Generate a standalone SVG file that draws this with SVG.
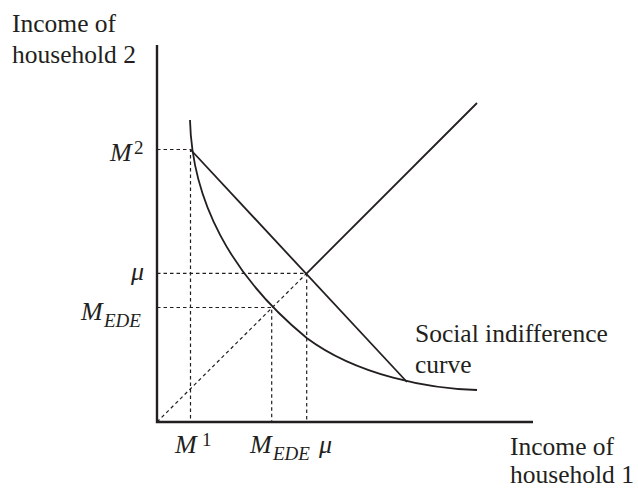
<svg xmlns="http://www.w3.org/2000/svg" width="638" height="489" viewBox="0 0 638 489">
<style>
.t{font-family:"Liberation Serif","Times New Roman",serif;font-size:25.5px;fill:#231f20}
.m{font-family:"Liberation Serif","Times New Roman",serif;font-style:italic;font-size:26px;fill:#231f20}
.s{font-family:"Liberation Serif","Times New Roman",serif;font-style:italic;font-size:19px;fill:#231f20}
.sn{font-family:"Liberation Serif","Times New Roman",serif;font-size:19px;fill:#231f20}
.ax{stroke:#231f20;stroke-width:2.4;fill:none}
.ln{stroke:#231f20;stroke-width:1.8;fill:none}
.d{stroke:#231f20;stroke-width:1.2;fill:none;stroke-dasharray:3.5 3}
</style>
<rect width="638" height="489" fill="#fff"/>
<g id="connectors">
<path class="d" d="M157,149.5H190.5V422"/>
<path class="d" d="M157,273.3H306.7V422"/>
<path class="d" d="M157,307.5H271.7V422"/>
<path class="d" d="M157,422L306.7,273.3"/>
<path class="ln" d="M306.7,273.3L477,103"/>
<path class="ln" d="M190.5,149.5L407,382"/>
<path class="ln" d="M190,120C192,200 230,275 306.7,338C357,375.5 430,389 477,390"/>
</g>
<g id="axes">
<path class="ax" d="M157,45V422H533"/>
</g>
<g id="label-y">
<text class="t" x="12" y="32">Income of</text>
<text class="t" x="12" y="63">household 2</text>
</g>
<g id="label-x">
<text class="t" x="510" y="455">Income of</text>
<text class="t" x="510" y="483">household 1</text>
</g>
<g id="label-curve">
<text class="t" x="415" y="342">Social indifference</text>
<text class="t" x="415" y="373">curve</text>
</g>
<g id="tick-M2">
<text class="m" x="110" y="161">M</text><text class="sn" x="134" y="154">2</text>
</g>
<g id="tick-mu-y">
<text class="m" x="131" y="280">μ</text>
</g>
<g id="tick-MEDE-y">
<text class="m" x="81" y="320">M</text><text class="s" x="104" y="327">EDE</text>
</g>
<g id="tick-M1">
<text class="m" x="175" y="453">M</text><text class="sn" x="202" y="446">1</text>
</g>
<g id="tick-MEDE-x">
<text class="m" x="250" y="453">M</text><text class="s" x="273" y="460">EDE</text>
</g>
<g id="tick-mu-x">
<text class="m" x="319" y="453">μ</text>
</g>
</svg>
